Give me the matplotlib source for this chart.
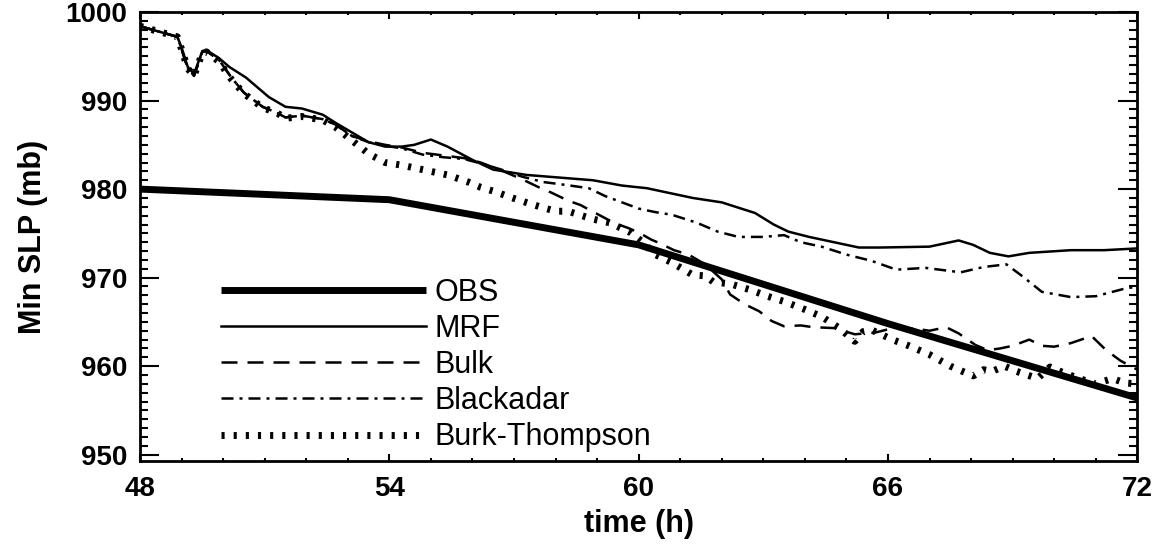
import matplotlib
matplotlib.use("Agg")
import matplotlib.pyplot as plt
from matplotlib.ticker import MultipleLocator

plt.rcParams['font.family'] = ['Liberation Sans', 'DejaVu Sans']

# ---- data ----
t_obs = [48, 54, 60, 66, 72]
p_obs = [980.0, 978.8, 973.7, 964.8, 956.4]

t_mrf = [48.0, 48.3, 48.6, 48.9, 49.0, 49.15, 49.3, 49.5, 49.6, 49.9, 50.15, 50.55,
         51.1, 51.5, 51.9, 52.4, 52.7, 53.1, 53.5, 53.9, 54.3, 54.6, 55.0, 55.4,
         56.0, 56.5, 57.3, 58.1, 58.9, 59.6, 60.2, 60.8, 61.3, 62.0, 62.8, 63.25,
         63.6, 64.1, 64.7, 65.3, 65.8, 67.0, 67.7, 68.05, 68.45, 68.9, 69.4, 70.4,
         71.2, 72.0]
p_mrf = [998.4, 998.0, 997.6, 997.2, 996.0, 993.8, 993.0, 995.6, 995.7, 994.8, 993.8, 992.6,
         990.4, 989.3, 989.1, 988.4, 987.5, 986.4, 985.3, 984.8, 984.8, 985.0, 985.6, 984.8,
         983.3, 982.2, 981.6, 981.3, 981.0, 980.4, 980.1, 979.5, 979.0, 978.5, 977.3, 976.0,
         975.2, 974.6, 974.0, 973.4, 973.4, 973.5, 974.2, 973.7, 972.8, 972.4, 972.8, 973.1,
         973.1, 973.3]

t_bulk = [48.0, 48.3, 48.6, 48.9, 49.0, 49.15, 49.3, 49.5, 49.6, 49.9, 50.2, 50.5,
          50.95, 51.3, 51.5, 51.9, 52.4, 52.7, 53.1, 53.5, 53.9, 54.3, 54.8, 55.3,
          55.8, 56.2, 56.7, 57.2, 57.6, 57.9, 58.3, 58.6, 59.0, 59.4, 59.75, 60.0,
          60.3, 60.5, 60.85, 61.2, 61.6, 62.0, 62.2, 62.55, 62.9, 63.2, 63.5, 63.9,
          64.2, 64.7, 65.2, 65.7, 66.2, 66.7, 67.0, 67.4, 67.7, 68.1, 68.4, 68.7,
          69.0, 69.4, 69.7, 70.0, 70.4, 70.9, 71.25, 71.6, 72.0]
p_bulk = [998.4, 998.0, 997.6, 997.2, 995.8, 993.6, 992.8, 995.5, 995.6, 994.6, 992.6, 990.9,
          989.3, 988.6, 988.1, 988.3, 987.9, 987.3, 986.0, 985.4, 985.0, 984.7, 984.1, 983.8,
          983.5, 983.0, 982.1, 981.1, 980.2, 979.6, 978.7, 978.2, 977.2, 976.2, 975.6, 975.1,
          974.3, 973.9, 973.1, 972.6, 971.5, 969.8, 968.1, 967.0, 966.2, 965.1, 964.5, 964.6,
          964.4, 964.3, 963.6, 963.8, 964.4, 964.2, 964.0, 964.4, 963.7, 962.4, 961.8, 962.0,
          962.3, 963.0, 962.3, 962.2, 962.6, 963.4, 961.8, 960.6, 959.6]

t_blk = [48.0, 48.3, 48.6, 48.9, 49.0, 49.15, 49.3, 49.5, 49.6, 49.9, 50.2, 50.5,
         50.95, 51.3, 51.5, 51.9, 52.4, 52.7, 53.1, 53.5, 53.9, 54.3, 54.8, 55.3,
         55.8, 56.2, 56.7, 57.2, 57.7, 58.2, 58.8, 59.2, 59.6, 60.0, 60.4, 60.8,
         61.4, 61.9, 62.4, 63.0, 63.5, 63.9, 64.4, 65.0, 65.6, 66.2, 66.9, 67.75,
         68.3, 68.85, 69.25, 69.7, 70.4, 71.0, 71.65, 72.0]
p_blk = [998.4, 998.0, 997.6, 997.2, 995.8, 993.6, 992.8, 995.5, 995.6, 994.6, 992.6, 990.9,
         989.3, 988.6, 988.1, 988.3, 987.9, 987.3, 986.0, 985.3, 984.9, 984.6, 983.9, 983.6,
         983.4, 982.9, 982.2, 981.4, 980.8, 980.5, 980.1, 979.2, 978.5, 977.8, 977.4, 977.1,
         976.2, 975.2, 974.6, 974.6, 974.8, 974.0, 973.5, 972.6, 971.9, 970.9, 971.1, 970.6,
         971.2, 971.5, 970.1, 968.4, 967.8, 967.9, 968.7, 969.0]

t_bt = [48.0, 48.3, 48.6, 48.9, 49.0, 49.15, 49.3, 49.5, 49.6, 49.9, 50.2, 50.5,
        50.95, 51.3, 51.5, 51.9, 52.4, 52.7, 53.1, 53.5, 53.9, 54.3, 54.6, 55.0,
        55.4, 55.9, 56.2, 56.55, 56.9, 57.35, 57.7, 58.0, 58.3, 58.9, 59.3, 59.8,
        60.1, 60.4, 60.8, 61.3, 61.6, 61.8, 62.2, 62.7, 63.1, 63.5, 64.0, 64.4,
        64.8, 65.2, 65.4, 65.6, 66.1, 66.5, 67.0, 67.5, 68.05, 68.3, 68.5, 68.8,
        69.1, 69.6, 69.9, 70.2, 70.6, 71.0, 71.4, 71.7, 72.0]
p_bt = [998.4, 998.0, 997.6, 997.2, 995.8, 993.6, 992.8, 995.4, 995.5, 994.4, 992.4, 990.8,
        989.2, 988.6, 988.0, 988.2, 987.8, 987.0, 985.5, 984.0, 983.0, 982.7, 982.4, 982.0,
        981.6, 980.8, 980.2, 979.7, 979.1, 978.4, 977.9, 977.5, 977.5, 976.6, 976.2, 975.1,
        974.0, 972.6, 971.7, 970.3, 970.2, 969.5, 969.3, 968.6, 967.9, 967.3, 966.4, 965.6,
        964.4, 962.8, 963.9, 964.1, 963.0, 962.3, 961.3, 960.0, 958.9, 959.6, 959.4, 960.0,
        959.4, 958.6, 959.9, 959.3, 958.6, 958.0, 958.6, 958.1, 958.0]

labels = ['OBS', 'MRF', 'Bulk', 'Blackadar', 'Burk-Thompson']
x_ticks = [48, 54, 60, 66, 72]
y_ticks = [950, 960, 970, 980, 990, 1000]

# ---- figure ----
fig = plt.figure(figsize=(11.57, 5.48), dpi=100)
ax = fig.add_axes([0.121, 0.159, 0.862, 0.819])

ax.plot(t_obs, p_obs, color='black', lw=5.0, solid_capstyle='butt', label=labels[0])
ax.plot(t_mrf, p_mrf, color='black', lw=1.8, label=labels[1])
ax.plot(t_bulk, p_bulk, color='black', lw=1.8, linestyle=(0, (6.4, 4.0)), label=labels[2])
ax.plot(t_blk, p_blk, color='black', lw=1.8, linestyle=(0, (4.8, 2.4, 1.2, 2.4)), label=labels[3])
ax.plot(t_bt, p_bt, color='black', lw=5.0, linestyle=(0, (0.45, 1.3)),
        dash_capstyle='butt', label=labels[4])

ax.set_xlim(48, 72)
ax.set_ylim(949.3, 1000)
ax.set_xticks(x_ticks)
ax.set_yticks(y_ticks)
ax.xaxis.set_minor_locator(MultipleLocator(1))
ax.yaxis.set_minor_locator(MultipleLocator(1))

for s in ax.spines.values():
    s.set_linewidth(2.0)

ax.tick_params(which='both', direction='in', top=True, right=True, width=1.5)
ax.tick_params(axis='x', which='major', length=5, pad=11)
ax.tick_params(axis='x', which='minor', length=2.5)
ax.tick_params(axis='y', which='major', length=14, pad=9)
ax.tick_params(axis='y', which='minor', length=6)

for lab in ax.get_xticklabels() + ax.get_yticklabels():
    lab.set_fontsize(20)
    lab.set_fontweight('bold')

ax.set_xlabel('time (h)', fontsize=22, fontweight='bold')
ax.set_ylabel('Min SLP (mb)', fontsize=22, fontweight='bold')
ax.xaxis.set_label_coords(0.5, -0.108)
ax.yaxis.set_label_coords(-0.092, 0.5)

leg = ax.legend(loc='upper left', bbox_to_anchor=(0.0812, 0.408), frameon=False,
                fontsize=22, handlelength=6.7, handletextpad=0.3, labelspacing=0.2,
                borderpad=0, borderaxespad=0)

fig.savefig('out.png', dpi=100)
